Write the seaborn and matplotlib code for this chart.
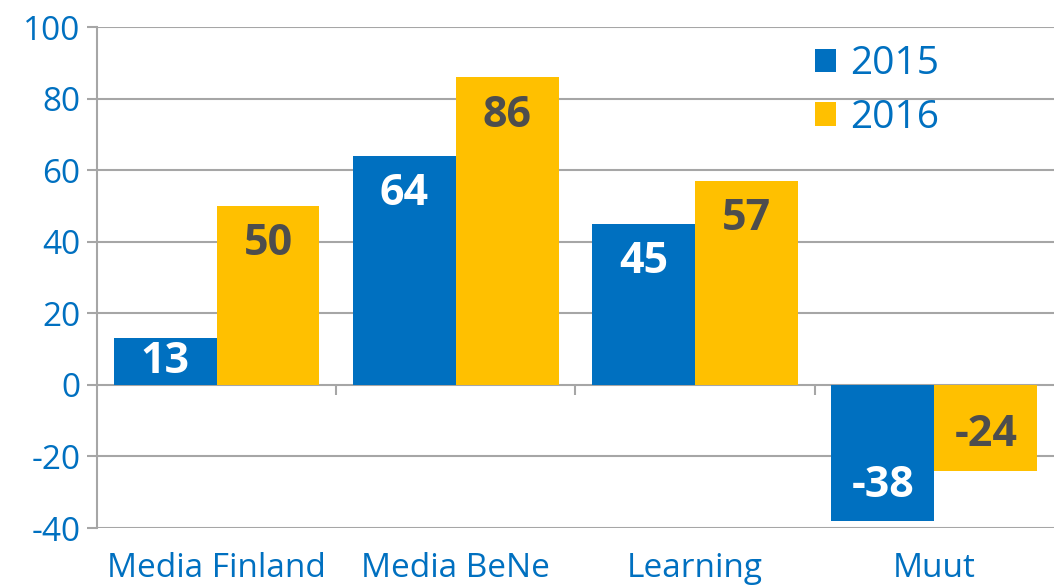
import matplotlib
matplotlib.use("Agg")
import matplotlib.pyplot as plt
import seaborn as sns
import pandas as pd


BLUE = "#0070C0"
YELLOW = "#FFC000"
GRAY = "#a6a6a6"

categories = ["Media Finland", "Media BeNe", "Learning", "Muut"]
years = ["2015", "2016"]
values_2015 = [13, 64, 45, -38]
values_2016 = [50, 86, 57, -24]
y_ticks = [-40, -20, 0, 20, 40, 60, 80, 100]


sns.set_theme(style="white")
plt.rcParams["font.family"] = ["Open Sans", "DejaVu Sans"]

# long form for seaborn
df = pd.DataFrame({
    "category": categories * 2,
    "year": [years[0]] * 4 + [years[1]] * 4,
    "value": values_2015 + values_2016,
})

fig = plt.figure(figsize=(10.54, 5.85), dpi=100)
ax = fig.add_axes([0.092, 0.0974, 0.908, 0.8564])

sns.barplot(data=df, x="category", y="value", hue="year", order=categories,
            hue_order=years, palette=[BLUE, YELLOW], width=0.86, gap=0,
            saturation=1, linewidth=0, ax=ax, zorder=2, legend=True)

ax.set_ylim(-40, 100)
ax.set_xlim(-0.5, 3.5)
ax.set_yticks(y_ticks)
ax.set_yticklabels([str(t) for t in y_ticks])
ax.yaxis.grid(True, color=GRAY, linewidth=1.5, zorder=0)
ax.set_axisbelow(True)
ax.set_xlabel("")
ax.set_ylabel("")

for side in ["top", "right", "bottom"]:
    ax.spines[side].set_visible(False)
ax.spines["left"].set_color(GRAY)
ax.spines["left"].set_linewidth(1.5)

ax.tick_params(axis="y", colors=GRAY, labelcolor=BLUE, labelsize=24,
               length=7, width=1.5, left=True, pad=5)
ax.tick_params(axis="x", labelcolor=BLUE, labelsize=24, length=0, pad=17)

# separators between categories on the zero line
ax.vlines([0.5, 1.5, 2.5], -2.8, 0, color=GRAY, linewidth=1.5, zorder=1)

# value labels inside the bars
bw = 0.43
for i, cat in enumerate(categories):
    for j, (vals, col) in enumerate([(values_2015, "white"), (values_2016, "#4d4d4d")]):
        v = vals[i]
        x = i - bw / 2 + j * bw
        if abs(v) > 21:
            y = v - 10.6 if v > 0 else v + 10.0
        else:
            y = v / 2
        ax.text(x, y, str(v), ha="center", va="center", color=col,
                fontsize=31, fontweight="bold", zorder=3)

leg = ax.legend(loc="upper left", bbox_to_anchor=(0.734, 0.995), frameon=False,
                fontsize=28, handlelength=0.55, handleheight=0.55,
                handletextpad=0.35, labelspacing=0.4, borderaxespad=0)
for t in leg.get_texts():
    t.set_color(BLUE)

fig.savefig("out.png", dpi=100)
